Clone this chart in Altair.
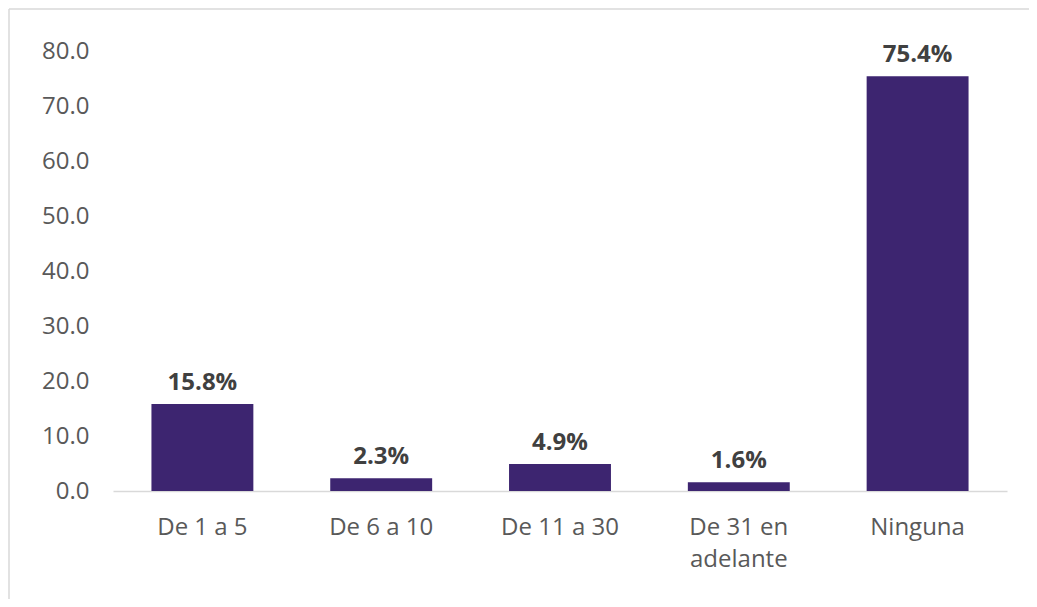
import altair as alt
import pandas as pd

categories = ["De 1 a 5", "De 6 a 10", "De 11 a 30", "De 31 en adelante", "Ninguna"]
values = [15.8, 2.3, 4.9, 1.6, 75.4]
labels = ["15.8%", "2.3%", "4.9%", "1.6%", "75.4%"]
y_ticks = [0, 10, 20, 30, 40, 50, 60, 70, 80]

df = pd.DataFrame({"cat": categories, "val": values, "lab": labels})

FONT = "Open Sans"
BAR = "#3D2570"
EDGE = "#D9D9D9"

x_enc = alt.X(
    "cat:N",
    sort=categories,
    title=None,
    scale=alt.Scale(paddingInner=0.43, paddingOuter=0.215),
    axis=alt.Axis(
        labelAngle=0,
        labelFont=FONT,
        labelFontSize=24,
        labelColor="#595959",
        labelPadding=36,
        labelLineHeight=32,
        labelExpr="datum.label == 'De 31 en adelante' ? ['De 31 en', 'adelante'] : datum.label",
        ticks=False,
        domainColor=EDGE,
        domainWidth=1.5,
        labelBaseline="middle",
    ),
)

y_enc = alt.Y(
    "val:Q",
    title=None,
    scale=alt.Scale(domain=[0, 80], nice=False),
    axis=alt.Axis(
        values=y_ticks,
        format=".1f",
        labelFont=FONT,
        labelFontSize=24,
        labelColor="#595959",
        labelPadding=24,
        ticks=False,
        domain=False,
        grid=False,
    ),
)

bars = alt.Chart(df).mark_bar(color=BAR).encode(x=x_enc, y=y_enc)

text = alt.Chart(df).mark_text(
    font=FONT, fontSize=24, fontWeight="bold", color="#404040", baseline="bottom", dy=-9
).encode(x=alt.X("cat:N", sort=categories), y="val:Q", text="lab:N")

one = pd.DataFrame({"k": [0]})
top_edge = alt.Chart(one).mark_rule(color=EDGE, strokeWidth=1.5).encode(
    x=alt.value(-104), x2=alt.value(930), y=alt.value(-42)
)
left_edge = alt.Chart(one).mark_rule(color=EDGE, strokeWidth=1.5).encode(
    x=alt.value(-104), y=alt.value(-42), y2=alt.value(600)
)

chart = (
    alt.layer(top_edge, left_edge, bars, text)
    .properties(
        width=894,
        height=440,
        padding={"left": 105, "top": 43, "right": 22, "bottom": 108},
        autosize=alt.AutoSizeParams(type="none"),
    )
    .configure_view(stroke=None)
)

chart.save("out.html", embed_options={"renderer": "svg", "actions": False})
